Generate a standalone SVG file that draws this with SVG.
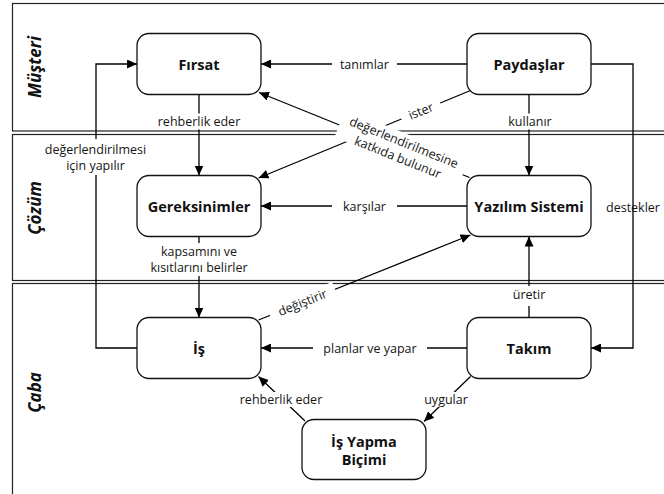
<svg xmlns="http://www.w3.org/2000/svg" width="664" height="494" viewBox="0 0 664 494">
<defs>
<style>
.lane{fill:none;stroke:#222;stroke-width:1.2}
.lt{font-family:"Open Sans","Noto Sans",sans-serif;font-size:17px;font-weight:bold;font-style:italic;fill:#111;text-anchor:middle;dominant-baseline:central}
.node rect{fill:#fff;stroke:#111;stroke-width:1.3}
.nt{font-family:"Open Sans","Noto Sans",sans-serif;font-size:14.5px;font-weight:bold;fill:#111;text-anchor:middle;dominant-baseline:central}
.c{fill:none;stroke:#000;stroke-width:1.3}
.a{marker-end:url(#ah)}
.bg{fill:#fff;stroke:none}
.el{font-family:"Open Sans","Noto Sans",sans-serif;font-size:12.5px;fill:#151515;text-anchor:middle;dominant-baseline:central}
</style>
<marker id="ah" markerUnits="userSpaceOnUse" markerWidth="10" markerHeight="9" refX="10" refY="4.5" orient="auto">
<path d="M0,0 L10,4.5 L0,9 Z" fill="#000"/>
</marker>
</defs>

<g id="lanes">
<rect class="lane" x="12.5" y="3.5" width="700" height="127.5"/>
<rect class="lane" x="12.5" y="134.5" width="700" height="146"/>
<rect class="lane" x="12.5" y="283.5" width="700" height="250"/>
<text class="lt" transform="translate(34.5,67) rotate(-90)">Müşteri</text>
<text class="lt" transform="translate(34.5,208) rotate(-90)">Çözüm</text>
<text class="lt" transform="translate(34.5,392.5) rotate(-90)">Çaba</text>
</g>

<g id="connectors">
<path class="c a" d="M467,64 H261"/>
<path class="c a" d="M199,94.5 V175.5"/>
<path class="c a" d="M529,94.5 V175.5"/>
<path class="c a" d="M470.5,90.5 L258.5,178"/>
<path class="c a" d="M469.5,177.5 L259,92.5"/>
<path class="c a" d="M467,206 H261"/>
<path class="c a" d="M199,236.5 V317.5"/>
<path class="c a" d="M258.5,320 L470.5,235"/>
<path class="c a" d="M529,317.5 V236.5"/>
<path class="c a" d="M591,64 H633 V348 H591"/>
<path class="c a" d="M137,348 H96 V64 H137"/>
<path class="c a" d="M467,348 H261"/>
<path class="c a" d="M470.5,376.5 L424,421.5"/>
<path class="c a" d="M305,421 L258.5,376.5"/>
</g>

<g id="edge-labels">
<g id="lbl-tanimlar"><rect class="bg" x="332" y="56" width="65" height="16"/><text class="el" x="364.4" y="64">tanımlar</text></g>
<g id="lbl-rehberlik1"><rect class="bg" x="150" y="113.5" width="98" height="16"/><text class="el" x="199" y="121.5">rehberlik eder</text></g>
<g id="lbl-kullanir"><rect class="bg" x="499" y="113.5" width="62" height="16"/><text class="el" x="530" y="121.5">kullanır</text></g>
<g id="lbl-ister" transform="translate(420.8,111) rotate(-22.4)"><rect class="bg" x="-21" y="-8" width="42" height="16"/><text class="el" x="0" y="0">ister</text></g>
<g id="lbl-katki" transform="translate(401,149.8) rotate(22)"><rect class="bg" x="-66.5" y="-17" width="133" height="30"/><text class="el" x="0" y="-8">değerlendirilmesine</text><text class="el" x="0" y="8">katkıda bulunur</text></g>
<g id="lbl-degerlendirilmesi"><rect class="bg" x="36" y="139" width="119" height="36"/><text class="el" x="95.5" y="149">değerlendirilmesi</text><text class="el" x="95.5" y="165">için yapılır</text></g>
<g id="lbl-karsilar"><rect class="bg" x="332" y="198" width="65" height="16"/><text class="el" x="364.5" y="206">karşılar</text></g>
<g id="lbl-kapsam"><rect class="bg" x="143" y="243" width="112" height="33"/><text class="el" x="199" y="251.5">kapsamını ve</text><text class="el" x="199" y="267.5">kısıtlarını belirler</text></g>
<g id="lbl-degistirir" transform="translate(302.5,302.4) rotate(-21.85)"><rect class="bg" x="-35" y="-8" width="70" height="16"/><text class="el" x="0" y="0">değiştirir</text></g>
<g id="lbl-uretir"><rect class="bg" x="505" y="286" width="48" height="20"/><text class="el" x="529" y="294">üretir</text></g>
<g id="lbl-destekler"><text class="el" x="633" y="207">destekler</text></g>
<g id="lbl-planlar"><rect class="bg" x="313" y="340" width="114" height="16"/><text class="el" x="370" y="348">planlar ve yapar</text></g>
<g id="lbl-uygular"><rect class="bg" x="416" y="392" width="61" height="15"/><text class="el" x="446" y="399.5">uygular</text></g>
<g id="lbl-rehberlik2"><rect class="bg" x="232" y="392" width="98" height="15"/><text class="el" x="281" y="399.5">rehberlik eder</text></g>
</g>

<g id="node-firsat" class="node"><rect x="137" y="33.5" width="124" height="61" rx="12" ry="12"/><text class="nt" x="199" y="64">Fırsat</text></g>
<g id="node-paydaslar" class="node"><rect x="467" y="33.5" width="124" height="61" rx="12" ry="12"/><text class="nt" x="529" y="64">Paydaşlar</text></g>
<g id="node-gereksinimler" class="node"><rect x="137" y="175.5" width="124" height="61" rx="12" ry="12"/><text class="nt" x="199" y="206">Gereksinimler</text></g>
<g id="node-yazilim" class="node"><rect x="467" y="175.5" width="124" height="61" rx="12" ry="12"/><text class="nt" x="529" y="206">Yazılım Sistemi</text></g>
<g id="node-is" class="node"><rect x="137" y="317.5" width="124" height="61" rx="12" ry="12"/><text class="nt" x="199" y="348">İş</text></g>
<g id="node-takim" class="node"><rect x="467" y="317.5" width="124" height="61" rx="12" ry="12"/><text class="nt" x="529" y="348">Takım</text></g>
<g id="node-isyapma" class="node"><rect x="302" y="419.5" width="124" height="60" rx="12" ry="12"/><text class="nt" x="364" y="441">İş Yapma</text><text class="nt" x="364" y="459">Biçimi</text></g>
</svg>
